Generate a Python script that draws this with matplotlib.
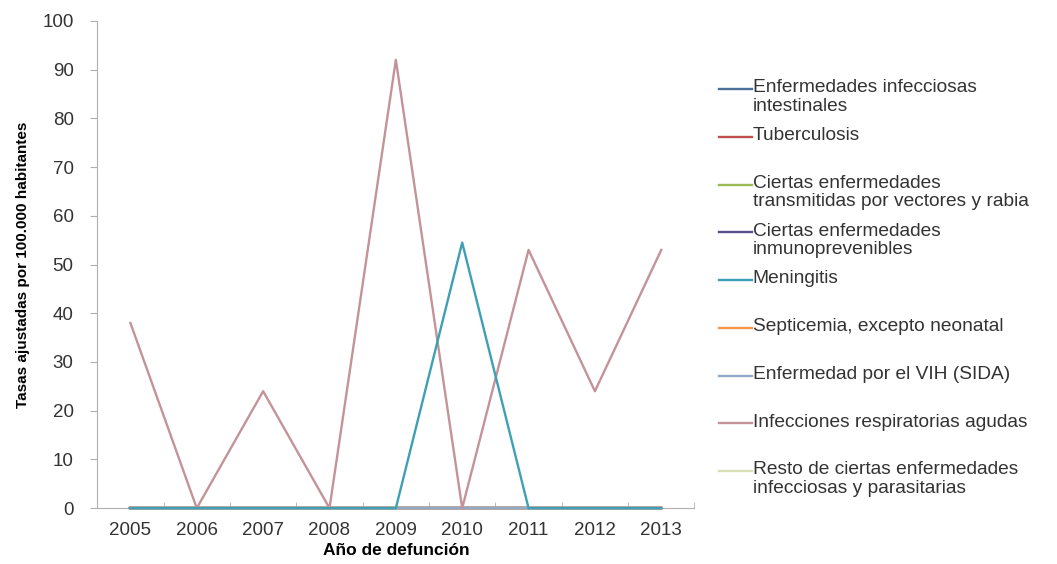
import numpy as np
import matplotlib.pyplot as plt
from matplotlib.lines import Line2D

years = ["2005", "2006", "2007", "2008", "2009", "2010", "2011", "2012", "2013"]

causas = [
    "Enfermedades infecciosas\nintestinales",
    "Tuberculosis",
    "Ciertas enfermedades\ntransmitidas por vectores y rabia",
    "Ciertas enfermedades\ninmunoprevenibles",
    "Meningitis",
    "Septicemia, excepto neonatal",
    "Enfermedad por el VIH (SIDA)",
    "Infecciones respiratorias agudas",
    "Resto de ciertas enfermedades\ninfecciosas y parasitarias",
]
colores = ["#4a6f99", "#c0504d", "#9bbb59", "#5a4f8a", "#3e9fb5",
           "#f79646", "#8fa9c9", "#c4939a", "#d8e0b8"]

intestinales = [0, 0, 0, 0, 0, 0, 0, 0, 0]
tuberculosis = [0, 0, 0, 0, 0, 0, 0, 0, 0]
vectores = [0, 0, 0, 0, 0, 0, 0, 0, 0]
inmunoprev = [0, 0, 0, 0, 0, 0, 0, 0, 0]
meningitis = [0, 0, 0, 0, 0, 54.5, 0, 0, 0]
septicemia = [0, 0, 0, 0, 0, 0, 0, 0, 0]
vih = [0, 0, 0, 0, 0, 0, 0, 0, 0]
ira = [38, 0, 24, 0, 92, 0, 53, 24, 53]
resto = [0, 0, 0, 0, 0, 0, 0, 0, 0]
series = [intestinales, tuberculosis, vectores, inmunoprev, meningitis,
          septicemia, vih, ira, resto]

plt.rcParams['font.family'] = ['Liberation Sans', 'DejaVu Sans']

fig = plt.figure(figsize=(10.57, 5.64), dpi=100)
ax = fig.add_axes([0.092, 0.099, 0.565, 0.864])

x = np.arange(len(years))
# zero lines first, then the two series with peaks, meningitis on top
orden = [8, 0, 1, 2, 3, 5, 6, 7, 4]
for k, i in enumerate(orden):
    ax.plot(x, series[i], color=colores[i], lw=1.7, zorder=3 + k * 0.1,
            clip_on=False)

ax.set_xlim(-0.5, len(years) - 0.5)
ax.set_ylim(0, 100)
ax.set_yticks(range(0, 101, 10))
ax.set_xticks(x)
ax.set_xticklabels(years, fontsize=13.5, color="#333333")
ax.set_xticks(np.arange(-0.5, len(years), 1), minor=True)
ax.tick_params(axis='x', which='major', length=0, pad=10)
ax.tick_params(axis='x', which='minor', length=4, color="#b0b0b0", direction='in')
ax.tick_params(axis='y', length=5, color="#b0b0b0", labelsize=13.5,
               labelcolor="#333333", pad=12)
for s in ("top", "right"):
    ax.spines[s].set_visible(False)
for s in ("left", "bottom"):
    ax.spines[s].set_color("#b0b0b0")

ax.set_xlabel("Año de defunción", fontsize=12.5, fontweight='bold', labelpad=3)
ax.set_ylabel("Tasas ajustadas por 100.000 habitantes", fontsize=11,
              fontweight='bold', labelpad=9)

# legend entries, one slot each
y0 = 1 - 89 / 564
paso = 47.75 / 564
for i, nombre in enumerate(causas):
    yy = y0 - i * paso
    fig.add_artist(Line2D([0.680, 0.711], [yy, yy], color=colores[i], lw=1.7,
                          transform=fig.transFigure))
    fig.text(0.712, yy + 0.017, nombre, fontsize=13.8, va='top', ha='left',
             color="#333333", linespacing=1.1)

fig.savefig("out.png", dpi=100)
